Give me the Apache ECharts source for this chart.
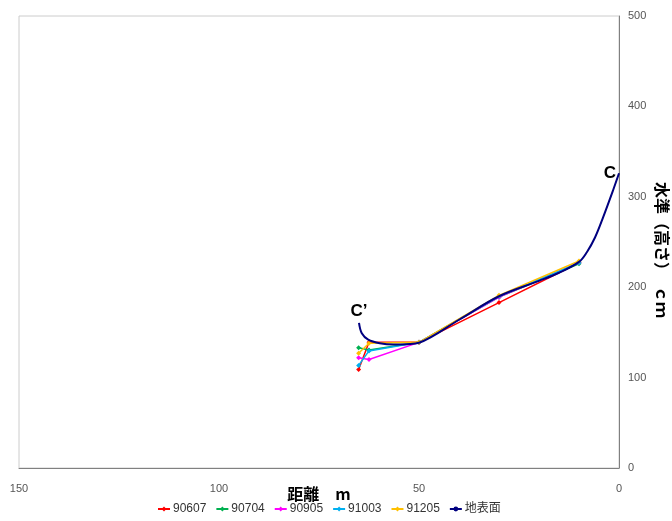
<!DOCTYPE html>
<html>
<head>
<meta charset="utf-8">
<script src="https://cdn.jsdelivr.net/npm/echarts@6/dist/echarts.min.js"></script>
<style>
html,body{margin:0;padding:0;background:#fff;}
#c{width:672px;height:521px;}
</style>
</head>
<body>
<div id="c"></div>
<script>
// distance (m), level (cm)
const xTicks = [0, 50, 100, 150];
const yTicks = [0, 100, 200, 300, 400, 500];
const seriesNames = ['90607', '90704', '90905', '91003', '91205', '地表面'];
const s90607 = [[65.1, 109], [62.5, 139], [50, 139], [30, 183], [10, 227]];
const s90704 = [[65.1, 133], [62.5, 130.5], [50, 139], [30, 189], [10, 226]];
const s90905 = [[65.1, 122], [62.5, 120], [50, 139], [30, 189], [10, 227]];
const s91003 = [[65.1, 113.5], [62.5, 129.5], [50, 139], [30, 190], [10, 227]];
const s91205 = [[65.1, 127], [62.5, 138], [50, 139], [30, 191], [10, 229]];
const ground = [[65, 160.5], [64.3, 149], [62.7, 142], [59.8, 138], [56.4, 136.5], [53, 137], [50, 138.5],
  [40, 164], [30, 190], [20, 207], [15, 216], [10, 228], [8, 239], [6, 255], [4, 277], [1.5, 307], [0, 326]];
const groundStartLabel = 'C’';
const groundEndLabel = 'C';

const colors = ['#ff0000', '#00b050', '#ff00ff', '#00b0f0', '#ffc000', '#000080'];
const obs = [s90607, s90704, s90905, s91003, s91205];

const chart = echarts.init(document.getElementById('c'));
const series = obs.map((d, i) => ({
  name: seriesNames[i],
  type: 'line',
  data: d,
  symbol: 'diamond',
  symbolSize: 5,
  lineStyle: { width: 1.5, color: colors[i] },
  itemStyle: { color: colors[i] },
  z: 2 + i,
  animation: false
}));
const gData = ground.map((p, i) => {
  if (i === 0) return { value: p, label: { show: true, formatter: groundStartLabel, position: 'top', distance: 3 } };
  if (i === ground.length - 1) return { value: p, label: { show: true, formatter: groundEndLabel, position: 'left', distance: 3, offset: [0, -3] } };
  return { value: p };
});
series.push({
  name: seriesNames[5],
  type: 'line',
  data: gData,
  smooth: 0.35,
  showSymbol: true,
  symbol: 'circle',
  symbolSize: 0,
  lineStyle: { width: 2, color: colors[5] },
  itemStyle: { color: colors[5] },
  label: { show: false, color: '#000', fontSize: 17, fontWeight: 'bold', fontFamily: 'Liberation Sans' },
  labelLayout: { hideOverlap: false },
  z: 10,
  animation: false
});

chart.setOption({
  animation: false,
  backgroundColor: '#fff',
  grid: { left: 19, right: 53, top: 16, bottom: 53, show: true, borderColor: '#cccccc', borderWidth: 1,
    containLabel: false, outerBoundsMode: 'none' },
  xAxis: {
    type: 'value', inverse: true, min: 0, max: 150, interval: 50,
    axisLine: { show: true, lineStyle: { color: '#808080', width: 1 } },
    axisTick: { show: false },
    splitLine: { show: false },
    axisLabel: { color: '#555', fontSize: 11, fontFamily: 'Liberation Sans', margin: 15,
      formatter: v => xTicks.includes(v) ? String(v) : '' },
    name: '距離　m', nameLocation: 'middle', nameGap: 18, nameMoveOverlap: false,
    nameTextStyle: { color: '#000', fontSize: 16, fontWeight: 'bold', fontFamily: 'Noto Sans CJK JP', verticalAlign: 'top' }
  },
  yAxis: {
    type: 'value', position: 'right', min: 0, max: 500, interval: 100,
    axisLine: { show: true, lineStyle: { color: '#808080', width: 1 } },
    axisTick: { show: false },
    splitLine: { show: false },
    axisLabel: { color: '#555', fontSize: 11, fontFamily: 'Liberation Sans', margin: 9,
      formatter: v => yTicks.includes(v) ? String(v) : '' },
    name: '水準（高さ）　ｃｍ', nameLocation: 'middle', nameRotate: -90, nameGap: 35, nameMoveOverlap: false,
    nameTextStyle: { color: '#000', fontSize: 16, fontWeight: 'bold', fontFamily: 'Noto Sans CJK JP', padding: [0, 0, 0, 16] }
  },
  legend: {
    data: seriesNames,
    bottom: 1, left: 152,
    itemWidth: 12, itemHeight: 6, itemGap: 9,
    textStyle: { color: '#333', fontSize: 12, fontFamily: 'Liberation Sans, Noto Sans CJK JP', padding: [0, 0, 0, -2] }
  },
  series: series
});
</script>
</body>
</html>
